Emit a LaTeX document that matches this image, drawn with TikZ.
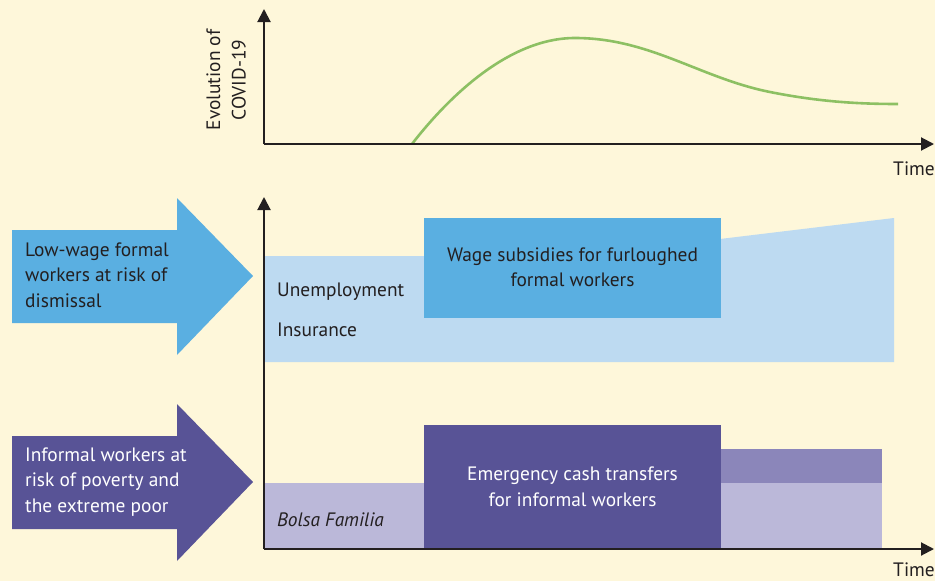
\documentclass[tikz,border=0pt]{standalone}
\usepackage{fontspec}
\setmainfont{PT Sans}
\usetikzlibrary{arrows.meta}
\definecolor{bgcream}{HTML}{FEF7DA}
\definecolor{inkdark}{HTML}{231F20}
\definecolor{midblue}{HTML}{5AAFE1}
\definecolor{paleblue}{HTML}{BDDAF1}
\definecolor{deeppurple}{HTML}{585396}
\definecolor{midpurple}{HTML}{8B86BA}
\definecolor{palepurple}{HTML}{BBB8D9}
\definecolor{curvegreen}{HTML}{8DC063}
\tikzset{
  axisline/.style={draw=inkdark, line width=2pt, -{Triangle[length=13pt,width=13pt]}},
  lbl/.style={inner sep=0pt, font=\fontsize{19.4}{25.5}\selectfont, text=inkdark},
  wlbl/.style={lbl, text=white},
}
\begin{document}
\begin{tikzpicture}[x=1pt,y=-1pt]
\useasboundingbox[fill=bgcream] (0,0) rectangle (935,581);

% ---- top chart ----
\coordinate (o1) at (264,144);
\coordinate (y1) at (264,9);
\coordinate (x1) at (934,144);
\draw[curvegreen, line width=2.6pt] (412,144) .. controls (450,95) and (510,38) .. (575,38)
  .. controls (650,38) and (700,78) .. (770,92) .. controls (820,102) and (860,104) .. (898,104);
\draw[axisline] (o1) -- (y1);
\draw[axisline] (o1) -- (x1);
\node[lbl, rotate=90, align=center] (evo) at (226,80) {Evolution of\\COVID-19};
\node[lbl, anchor=east] (time1) at (935,169) {Time};

% ---- bottom chart: bands ----
\fill[paleblue] (264,256) -- (424,256) -- (720,239) -- (894,218) -- (894,362) -- (264,362) -- cycle;
\fill[midblue] (424,218) rectangle (721,318);
\node[lbl, align=center] (wage) at (572.5,267) {Wage subsidies for furloughed\\formal workers};
\node[lbl, anchor=west] (unemp) at (277,292) {Unemployment};
\node[lbl, anchor=west] (insur) at (277,330) {Insurance};

\fill[palepurple] (264,483) rectangle (882,549);
\fill[midpurple] (721,449) rectangle (882,483);
\fill[deeppurple] (424,425) rectangle (721,549);
\node[wlbl, align=center] (emerg) at (572.5,487) {Emergency cash transfers\\for informal workers};
\node[lbl, anchor=west, font=\fontsize{19.4}{25.5}\selectfont\itshape] (bolsa) at (277,520) {Bolsa Familia};

% ---- bottom chart axes ----
\coordinate (o2) at (264,549);
\coordinate (y2) at (264,197);
\coordinate (x2) at (934,549);
\draw[axisline] (o2) -- (y2);
\draw[axisline] (o2) -- (x2);
\node[lbl, anchor=east] (time2) at (935,570) {Time};

% ---- big arrows ----
\fill[midblue] (12,230) -- (177,230) -- (177,198) -- (253,276) -- (177,355) -- (177,323) -- (12,323) -- cycle;
\node[lbl, anchor=west, align=left] (lowwage) at (25,275) {Low-wage formal\\workers at risk of\\dismissal};
\fill[deeppurple] (12,436) -- (177,436) -- (177,404) -- (253,482) -- (177,561) -- (177,529) -- (12,529) -- cycle;
\node[wlbl, anchor=west, align=left] (informal) at (25,482) {Informal workers at\\risk of poverty and\\the extreme poor};
\end{tikzpicture}
\end{document}
